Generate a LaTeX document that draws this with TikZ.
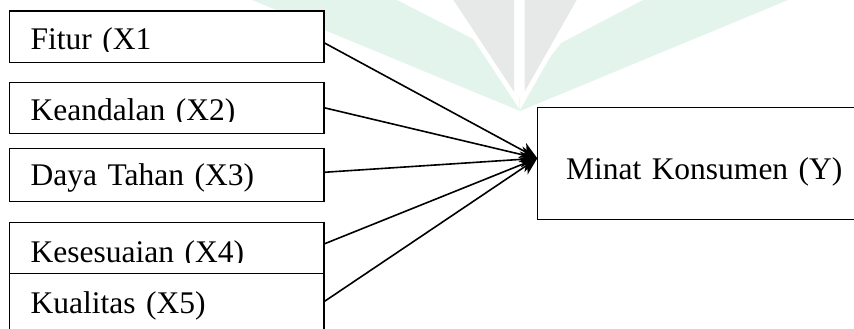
\documentclass[tikz,border=0pt]{standalone}
\usepackage{fontspec}
\setmainfont{Liberation Serif}
\usetikzlibrary{arrows.meta}
\definecolor{wmgreen}{RGB}{227,244,236}
\definecolor{wmgrey}{RGB}{230,233,232}
\begin{document}
\begin{tikzpicture}[x=1pt,y=-1pt,
  box/.style={draw, line width=1.5pt, fill=white, anchor=south west, outer sep=0pt,
    inner ysep=0pt, inner xsep=21.4pt, align=left, text width=271.9pt,
    font=\fontsize{31.5}{36}\selectfont},
  conn/.style={line width=1.6pt, -{Stealth[length=17pt,width=16pt,inset=5pt]}},
  mask/.style={fill=white}]
\useasboundingbox (0,0) rectangle (854,329);
% watermark
\fill[wmgreen] (252,0) -- (520,111) -- (788,0) -- (643,0) -- (561,43) -- (519,98) -- (481,43) -- (397,0) -- cycle;
\draw[white, line width=10pt, line join=miter] (440.2,-20) -- (514,-20) -- (514,91.7) -- cycle;
\draw[white, line width=10pt, line join=miter] (524.6,-20) -- (588,-20) -- (524.6,91.7) -- cycle;
\fill[wmgrey] (440.2,-20) -- (514,-20) -- (514,91.7) -- cycle;
\fill[wmgrey] (524.6,-20) -- (588,-20) -- (524.6,91.7) -- cycle;
% boxes
\node[box, text height=39pt, text depth=12.7pt] (x1) at (9.3,62.7) {Fitur (X1};
\node[box, text height=37.3pt, text depth=13.3pt] (x2) at (9.3,133.3) {Keandalan (X2)};
\node[box, text height=36.7pt, text depth=16.7pt] (x3) at (9.3,201.7) {Daya Tahan (X3)};
\node[box, text height=40pt, text depth=26.7pt] (x5) at (9.3,340) {Kualitas (X5)};
\node[box, text height=40pt, text depth=10.6pt] (x4) at (9.3,273.3) {Kesesuaian (X4)};
\node[box, inner xsep=28.7pt, text width=285.3pt, text height=72pt, text depth=40pt] (y) at (537.3,219.3) {Minat Konsumen (Y)};
% clipped text bottoms
\fill[mask] (10.3,52) rectangle (323,61.8);
\fill[mask] (10.3,122) rectangle (323,132.4);
\fill[mask] (10.3,191.5) rectangle (323,200.8);
\fill[mask] (10.3,262.9) rectangle (323,272.4);
% connectors
\draw[conn] ([yshift=-5.85pt]x1.east) -- ([yshift=5pt]y.west);
\draw[conn] ([yshift=0.3pt]x2.east) -- ([yshift=5pt]y.west);
\draw[conn] ([yshift=2.7pt]x3.east) -- ([yshift=5pt]y.west);
\draw[conn] ([yshift=4pt]x4.east) -- ([yshift=5pt]y.west);
\draw[conn] ([yshift=4.95pt]x5.east) -- ([yshift=5pt]y.west);
\end{tikzpicture}
\end{document}
